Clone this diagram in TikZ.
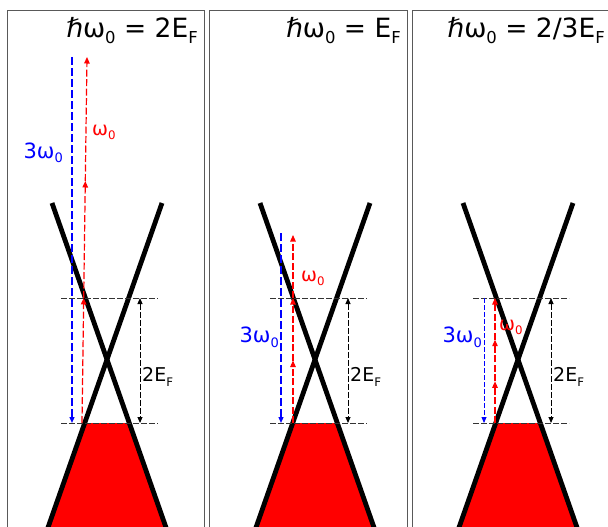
\documentclass[tikz,border=0pt]{standalone}
\usepackage{fontspec}
\setmainfont{DejaVu Sans}
\usepackage{graphicx}
\usetikzlibrary{arrows.meta}
\newcommand\mysub[1]{\raisebox{-0.4ex}{\scalebox{0.62}{#1}}}
\definecolor{pred}{RGB}{255,0,0}
\definecolor{pblue}{RGB}{0,0,255}
\begin{document}
\begin{tikzpicture}[x=1pt,y=-1pt,
  frame/.style={draw=black!65, line width=1pt},
  band/.style={draw=black, line width=4.8pt},
  sea/.style={fill=pred, draw=none},
  level/.style={draw=black!80, line width=0.9pt, dash pattern=on 6pt off 2pt},
  gaparrow/.style={draw=black, line width=1pt, dash pattern=on 6pt off 2pt, {Triangle[length=6pt,width=5pt]}-{Triangle[length=6pt,width=5pt]}},
  photon/.style={draw=pred, line width=1.2pt, dash pattern=on 7pt off 2.5pt, -{Triangle[length=6.5pt,width=5.5pt]}},
  third/.style={draw=pblue, line width=1.3pt, dash pattern=on 8pt off 3pt, -{Triangle[length=6pt,width=5pt]}},
  title/.style={inner sep=0pt, anchor=base east, font=\fontsize{26.5}{29}\selectfont},
  lab/.style={inner sep=0pt, font=\fontsize{19}{22}\selectfont},
  biglab/.style={inner sep=0pt, font=\fontsize{21}{24}\selectfont},
]
\useasboundingbox (0,0) rectangle (608,527);
\clip (0,0) rectangle (608,527);
\fill[white] (0,0) rectangle (608,527);

% panel frames
\draw[frame] (7,540) -- (7,11) -- (204,11) -- (204,540);
\draw[frame] (209,540) -- (209,11) -- (407,11) -- (407,540);
\draw[frame] (412,540) -- (412,11) -- (620,11) -- (620,540);

% titles
\node[title] (t1) at (198,38) {ℏω\mysub{0} = 2E\mysub{F}};
\node[title] (t2) at (401,38) {ℏω\mysub{0} = E\mysub{F}};
\node[title] (t3) at (605,38) {ℏω\mysub{0} = 2/3E\mysub{F}};

% ---------- panel 1 ----------
\begin{scope}[shift={(107,0)}]
  \fill[sea] (-22,423) -- (22,423) -- (63.4,540) -- (-63.4,540) -- cycle;
  \draw[band] (-55,203) -- (63.4,540);
  \draw[band] (55,203) -- (-63.4,540);
  \coordinate (a-ul) at (-46,298); \coordinate (a-ur) at (51,298);
  \coordinate (a-ll) at (-46,423); \coordinate (a-lr) at (51,423);
  \draw[level] (a-ul) -- (a-ur);
  \draw[level] (a-ll) -- (a-lr);
  \coordinate (a-gt) at (33,298); \coordinate (a-gb) at (33,423);
  \draw[gaparrow] (a-gt) -- (a-gb);
  \node[lab, anchor=west] (a-gl) at (35,377) {2E\mysub{F}};
  \coordinate (a-b0) at (-35,57); \coordinate (a-b1) at (-35,423);
  \draw[third] (a-b0) -- (a-b1);
  \coordinate (a-r0) at (-25,423); \coordinate (a-r1) at (-23.3,298);
  \coordinate (a-r2) at (-21.7,181); \coordinate (a-r3) at (-20,57);
  \draw[photon] (a-r0) -- (a-r1);
  \draw[photon] (a-r1) -- (a-r2);
  \draw[photon] (a-r2) -- (a-r3);
  \node[lab, anchor=west, text=pred] (a-wl) at (-15,132) {ω\mysub{0}};
  \node[biglab, anchor=east, text=pblue] (a-tl) at (-44,153) {3ω\mysub{0}};
\end{scope}

% ---------- panel 2 ----------
\begin{scope}[shift={(315,0)}]
  \fill[sea] (-22,423) -- (22,423) -- (63.4,540) -- (-63.4,540) -- cycle;
  \draw[band] (-55,203) -- (63.4,540);
  \draw[band] (55,203) -- (-63.4,540);
  \coordinate (b-ul) at (-45,298); \coordinate (b-ur) at (52,298);
  \coordinate (b-ll) at (-45,423); \coordinate (b-lr) at (52,423);
  \draw[level] (b-ul) -- (b-ur);
  \draw[level] (b-ll) -- (b-lr);
  \coordinate (b-gt) at (33,298); \coordinate (b-gb) at (33,423);
  \draw[gaparrow] (b-gt) -- (b-gb);
  \node[lab, anchor=west] (b-gl) at (35,377) {2E\mysub{F}};
  \coordinate (b-b0) at (-34,233); \coordinate (b-b1) at (-34,423);
  \draw[third] (b-b0) -- (b-b1);
  \coordinate (b-r0) at (-22,423); \coordinate (b-r1) at (-22,360.5);
  \coordinate (b-r2) at (-22,298); \coordinate (b-r3) at (-22,235);
  \draw[photon] (b-r0) -- (b-r1);
  \draw[photon] (b-r1) -- (b-r2);
  \draw[photon] (b-r2) -- (b-r3);
  \node[lab, anchor=west, text=pred] (b-wl) at (-14,278) {ω\mysub{0}};
  \node[biglab, anchor=east, text=pblue] (b-tl) at (-36,337) {3ω\mysub{0}};
\end{scope}

% ---------- panel 3 ----------
\begin{scope}[shift={(518,0)}]
  \fill[sea] (-22,423) -- (22,423) -- (63.4,540) -- (-63.4,540) -- cycle;
  \draw[band] (-55,203) -- (63.4,540);
  \draw[band] (55,203) -- (-63.4,540);
  \coordinate (c-ul) at (-45,298); \coordinate (c-ur) at (51,298);
  \coordinate (c-ll) at (-45,423); \coordinate (c-lr) at (51,423);
  \draw[level] (c-ul) -- (c-ur);
  \draw[level] (c-ll) -- (c-lr);
  \coordinate (c-gt) at (33,298); \coordinate (c-gb) at (33,423);
  \draw[gaparrow] (c-gt) -- (c-gb);
  \node[lab, anchor=west] (c-gl) at (35,377) {2E\mysub{F}};
  \coordinate (c-b0) at (-34,298); \coordinate (c-b1) at (-34,423);
  \draw[third, line width=0.8pt, dash pattern=on 5pt off 2pt] (c-b0) -- (c-b1);
  \coordinate (c-r0) at (-23,423); \coordinate (c-r1) at (-23,381.3);
  \coordinate (c-r2) at (-23,339.7); \coordinate (c-r3) at (-23,298);
  \draw[photon] (c-r0) -- (c-r1);
  \draw[photon] (c-r1) -- (c-r2);
  \draw[photon] (c-r2) -- (c-r3);
  \node[lab, anchor=west, text=pred] (c-wl) at (-19,327) {ω\mysub{0}};
  \node[biglab, anchor=east, text=pblue] (c-tl) at (-36,337) {3ω\mysub{0}};
\end{scope}
\end{tikzpicture}
\end{document}
